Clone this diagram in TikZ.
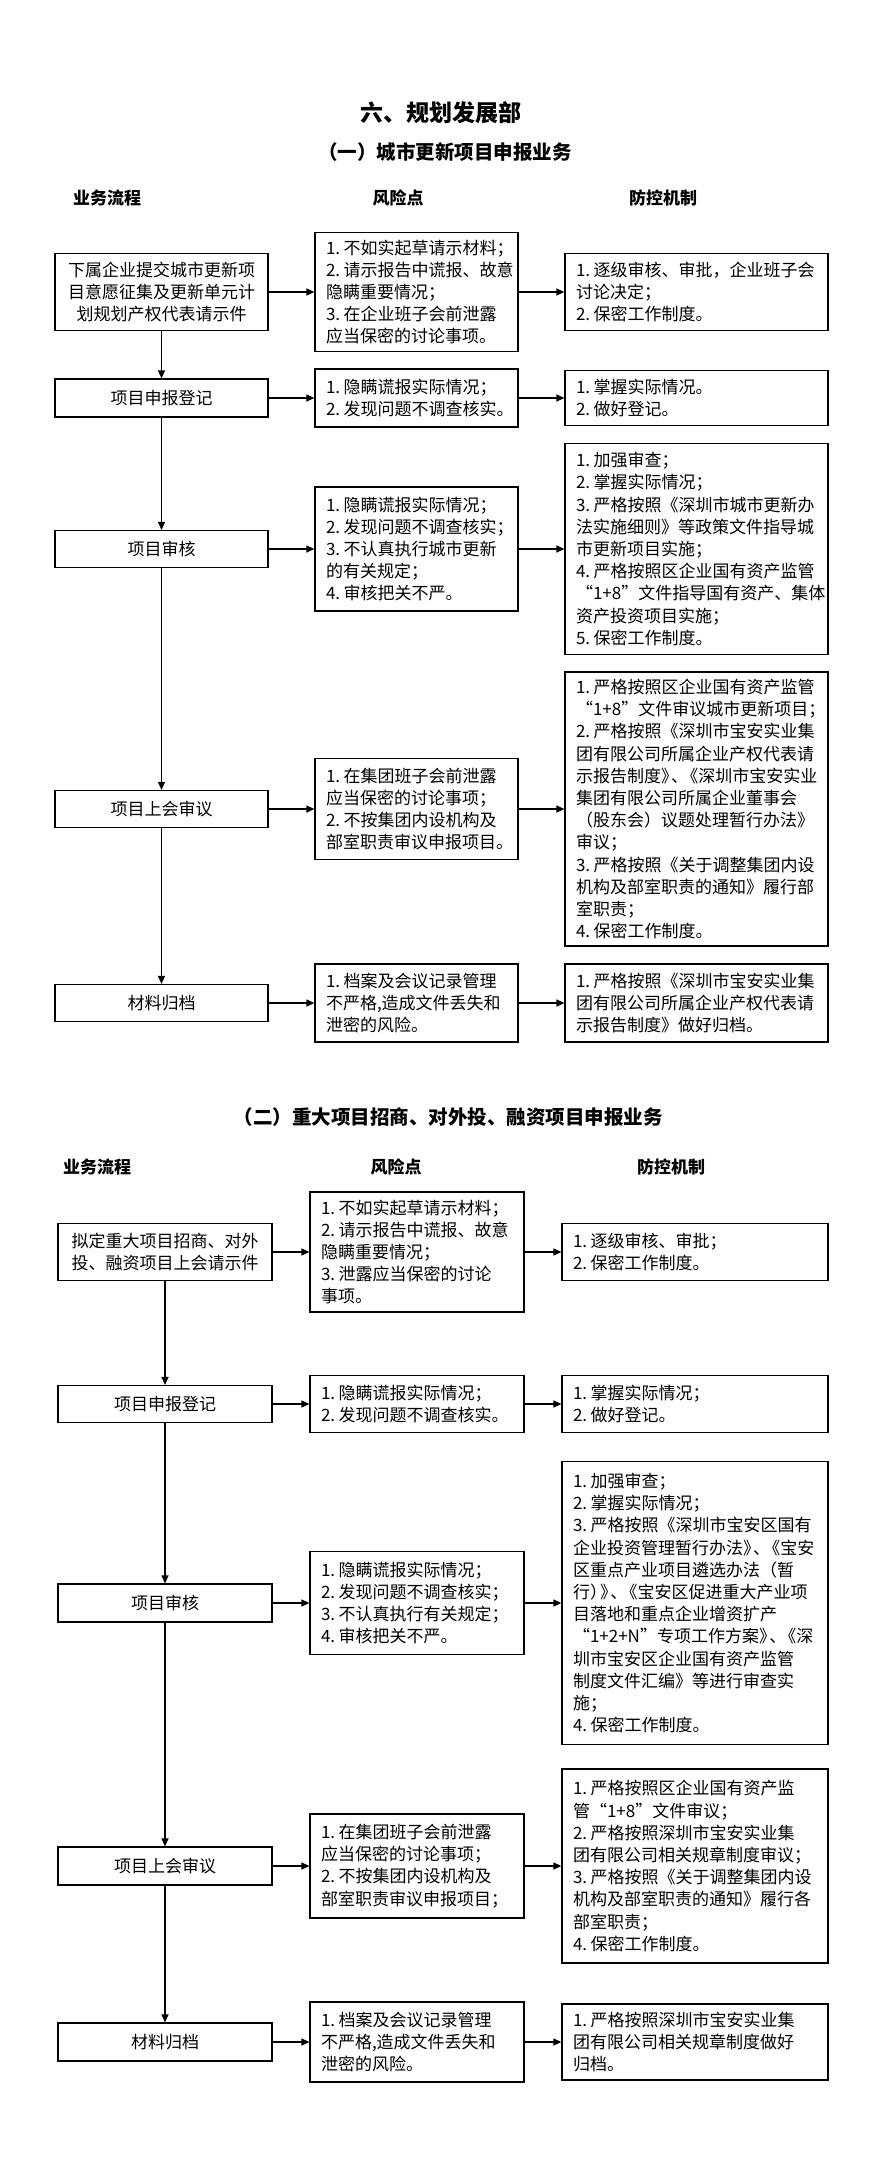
\documentclass[tikz,border=0pt]{standalone}
\usepackage{fontspec}
\setmainfont{Noto Sans CJK SC}
\usetikzlibrary{arrows.meta}
\definecolor{chartink}{HTML}{000000}
\newcommand\tiao[1]{#1.\kern0.2em}
\newcommand\pc{\kern-0.4em}
\newcommand\bodyfont{\fontsize{17}{22.2}\selectfont}

\begin{document}
\begin{tikzpicture}[
  x=1pt,
  y=-1pt,
  every node/.style={chartink},
  box/.style={draw=chartink, line width=1.2pt, inner xsep=11pt,
              inner ysep=0pt, font=\bodyfont},
  proc/.style={box, align=center, minimum width=#1},
  proc/.default=213pt,
  risk/.style={box, align=left, text width=#1},
  risk/.default=181pt,
  ctrl/.style={box, align=left, text width=#1},
  ctrl/.default=241pt,
  head/.style={font=\fontsize{17}{20}\selectfont\bfseries},
  flow/.style={chartink, line width=1.2pt,
               -{Triangle[length=8pt, width=7pt]}}
]
  \useasboundingbox (0,0) rectangle (880,2164);

  %% ---- 標題 --------------------------------------------------------------
  \node[font=\fontsize{23}{26}\selectfont\bfseries] (title) at (441,113) {六、规划发展部};

  %% ---- (一) 城市更新項目申報業務 ----------------------------------------
  \node[font=\fontsize{19.5}{22}\selectfont\bfseries] (partA) at (445,152) {（一）城市更新项目申报业务};
  \node[head] (flowheadA) at (107,198) {业务流程};
  \node[head] (riskheadA) at (398,198) {风险点};
  \node[head] (ctrlheadA) at (663,198) {防控机制};

  \node[proc, minimum height=77pt] (procA1) at (161.5,292) {下属企业提交城市更新项\\目意愿征集及更新单元计\\划规划产权代表请示件};
  \node[risk, minimum height=119pt] (riskA1) at (416.5,292) {\tiao1不如实起草请示材料；\\\tiao2请示报告中谎报、故意\\隐瞒重要情况；\\\tiao3在企业班子会前泄露\\应当保密的讨论事项。};
  \node[ctrl, minimum height=77pt] (ctrlA1) at (696.5,292) {\tiao1逐级审核、审批，企业班子会\\讨论决定；\\\tiao2保密工作制度。};

  \node[proc, minimum height=38pt] (procA2) at (161.5,398) {项目申报登记};
  \node[risk, minimum height=58pt] (riskA2) at (416.5,398) {\tiao1隐瞒谎报实际情况；\\\tiao2发现问题不调查核实。};
  \node[ctrl, minimum height=55pt] (ctrlA2) at (696.5,398) {\tiao1掌握实际情况。\\\tiao2做好登记。};

  \node[proc, minimum height=37pt] (procA3) at (161.5,549) {项目审核};
  \node[risk, minimum height=124pt] (riskA3) at (416.5,549) {\tiao1隐瞒谎报实际情况；\\\tiao2发现问题不调查核实；\\\tiao3不认真执行城市更新\\的有关规定；\\\tiao4审核把关不严。};
  \node[ctrl, minimum height=211pt] (ctrlA3) at (696.5,549) {\tiao1加强审查；\\\tiao2掌握实际情况；\\\tiao3严格按照《深圳市城市更新办\\法实施细则》等政策文件指导城\\市更新项目实施；\\\tiao4严格按照区企业国有资产监管\\“1+8”文件指导国有资产、集体\\资产投资项目实施；\\\tiao5保密工作制度。};

  \node[proc, minimum height=37pt] (procA4) at (161.5,809) {项目上会审议};
  \node[risk, minimum height=101pt] (riskA4) at (416.5,809) {\tiao1在集团班子会前泄露\\应当保密的讨论事项；\\\tiao2不按集团内设机构及\\部室职责审议申报项目。};
  \node[ctrl, minimum height=274pt] (ctrlA4) at (696.5,809) {\tiao1严格按照区企业国有资产监管\\“1+8”文件审议城市更新项目；\\\tiao2严格按照《深圳市宝安实业集\\团有限公司所属企业产权代表请\\示报告制度》\pc、\pc《深圳市宝安实业\\集团有限公司所属企业董事会\\（股东会）议题处理暂行办法》\\审议；\\\tiao3严格按照《关于调整集团内设\\机构及部室职责的通知》履行部\\室职责；\\\tiao4保密工作制度。};

  \node[proc, minimum height=37pt] (procA5) at (161.5,1003) {材料归档};
  \node[risk, minimum height=78pt] (riskA5) at (416.5,1003) {\tiao1档案及会议记录管理\\不严格,造成文件丢失和\\泄密的风险。};
  \node[ctrl, minimum height=78pt] (ctrlA5) at (696.5,1003) {\tiao1严格按照《深圳市宝安实业集\\团有限公司所属企业产权代表请\\示报告制度》做好归档。};

  \foreach \i/\j in {1/2,2/3,3/4,4/5}
    \draw[flow] (procA\i) -- (procA\j);
  \foreach \i in {1,...,5} {
    \draw[flow] (procA\i) -- (riskA\i);
    \draw[flow] (riskA\i) -- (ctrlA\i);
  }

  %% ---- (二) 重大項目招商、對外投、融資項目申報業務 ----------------------
  \node[font=\fontsize{19.5}{22}\selectfont\bfseries] (partB) at (448,1117) {（二）重大项目招商、对外投、融资项目申报业务};
  \node[head] (flowheadB) at (97,1167) {业务流程};
  \node[head] (riskheadB) at (396,1167) {风险点};
  \node[head] (ctrlheadB) at (671,1167) {防控机制};

  \node[proc=214pt, minimum height=57pt] (procB1) at (165,1252) {拟定重大项目招商、对外\\投、融资项目上会请示件};
  \node[risk=192pt, minimum height=120pt] (riskB1) at (417,1252) {\tiao1不如实起草请示材料；\\\tiao2请示报告中谎报、故意\\隐瞒重要情况；\\\tiao3泄露应当保密的讨论\\事项。};
  \node[ctrl=244pt, minimum height=57pt] (ctrlB1) at (695,1252) {\tiao1逐级审核、审批；\\\tiao2保密工作制度。};

  \node[proc=214pt, minimum height=37pt] (procB2) at (165,1404) {项目申报登记};
  \node[risk=192pt, minimum height=57pt] (riskB2) at (417,1404) {\tiao1隐瞒谎报实际情况；\\\tiao2发现问题不调查核实。};
  \node[ctrl=244pt, minimum height=57pt] (ctrlB2) at (695,1404) {\tiao1掌握实际情况；\\\tiao2做好登记。};

  \node[proc=214pt, minimum height=38pt] (procB3) at (165,1603) {项目审核};
  \node[risk=192pt, minimum height=103pt] (riskB3) at (417,1603) {\tiao1隐瞒谎报实际情况；\\\tiao2发现问题不调查核实；\\\tiao3不认真执行有关规定；\\\tiao4审核把关不严。};
  \node[ctrl=244pt, minimum height=283pt] (ctrlB3) at (695,1603) {\tiao1加强审查；\\\tiao2掌握实际情况；\\\tiao3严格按照《深圳市宝安区国有\\企业投资管理暂行办法》\pc、\pc《宝安\\区重点产业项目遴选办法（暂\\行）\pc》\pc、\pc《宝安区促进重大产业项\\目落地和重点企业增资扩产\\“1+2+N”专项工作方案》\pc、\pc《深\\圳市宝安区企业国有资产监管\\制度文件汇编》等进行审查实\\施；\\\tiao4保密工作制度。};

  \node[proc=214pt, minimum height=38pt] (procB4) at (165,1866) {项目上会审议};
  \node[risk=192pt, minimum height=104pt] (riskB4) at (417,1866) {\tiao1在集团班子会前泄露\\应当保密的讨论事项；\\\tiao2不按集团内设机构及\\部室职责审议申报项目；};
  \node[ctrl=244pt, minimum height=194pt] (ctrlB4) at (695,1866) {\tiao1严格按照区企业国有资产监\\管“1+8”文件审议；\\\tiao2严格按照深圳市宝安实业集\\团有限公司相关规章制度审议；\\\tiao3严格按照《关于调整集团内设\\机构及部室职责的通知》履行各\\部室职责；\\\tiao4保密工作制度。};

  \node[proc=214pt, minimum height=38pt] (procB5) at (165,2042) {材料归档};
  \node[risk=192pt, minimum height=80pt] (riskB5) at (417,2042) {\tiao1档案及会议记录管理\\不严格,造成文件丢失和\\泄密的风险。};
  \node[ctrl=244pt, minimum height=76pt] (ctrlB5) at (695,2042) {\tiao1严格按照深圳市宝安实业集\\团有限公司相关规章制度做好\\归档。};

  \foreach \i/\j in {1/2,2/3,3/4,4/5}
    \draw[flow] (procB\i) -- (procB\j);
  \foreach \i in {1,...,5} {
    \draw[flow] (procB\i) -- (riskB\i);
    \draw[flow] (riskB\i) -- (ctrlB\i);
  }
\end{tikzpicture}
\end{document}
